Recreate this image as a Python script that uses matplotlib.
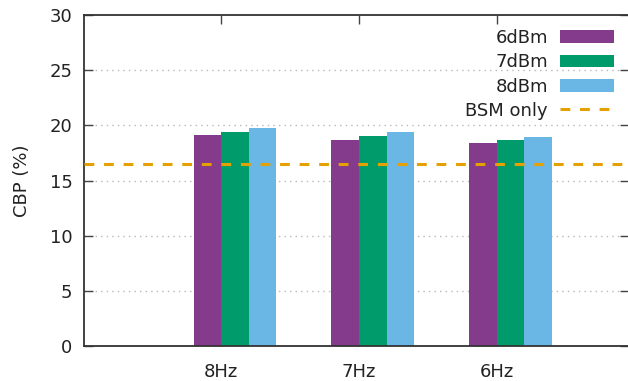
import numpy as np
import matplotlib
matplotlib.use('Agg')
import matplotlib.pyplot as plt

# data
categories = ['8Hz', '7Hz', '6Hz']
series_names = ['6dBm', '7dBm', '8dBm']
cbp_6dbm = [19.1, 18.7, 18.4]
cbp_7dbm = [19.4, 19.0, 18.7]
cbp_8dbm = [19.8, 19.4, 18.95]
bsm_only = 16.5

colors = ['#843b8c', '#009b6b', '#6ab6e5']
line_color = '#e5a100'

plt.rcParams['font.family'] = 'DejaVu Sans'
plt.rcParams['font.size'] = 13

fig = plt.figure(figsize=(6.28, 3.81), dpi=100)
ax = fig.add_axes([83.5 / 628, 35 / 381, (629 - 83.5) / 628, (346 - 15) / 381])

x = np.arange(len(categories))
width = 0.2
offsets = [-0.1, 0.1, 0.3]
handles = []
for vals, name, c, off in zip([cbp_6dbm, cbp_7dbm, cbp_8dbm], series_names, colors, offsets):
    handles.append(ax.bar(x + off, vals, width, color=c, label=name, zorder=2))

handles.append(ax.axhline(bsm_only, color=line_color, linestyle=(0, (3.2, 3.2)), linewidth=2.2,
                          label='BSM only', zorder=3))

ax.set_xlim(-1, 2.96)
ax.set_ylim(0, 30)
ax.set_xticks(x)
ax.set_xticklabels(categories)
ax.set_yticks(np.arange(0, 31, 5))

for yv in range(5, 30, 5):
    ax.axhline(yv, color='#b8b8b8', linestyle=(0, (1, 3)), linewidth=1, zorder=0)

ax.tick_params(axis='both', direction='in', length=6.5, width=1, color='#444444',
               top=True, right=True, labelcolor='#222222')
ax.tick_params(axis='x', pad=12)
ax.tick_params(axis='y', pad=8)
for s in ax.spines.values():
    s.set_color('#333333')
    s.set_linewidth(1.3)

ax.set_ylabel('CBP (%)', color='#222222')
ax.yaxis.set_label_coords(-0.097, 0.5)

leg = ax.legend(handles=handles, labels=series_names + ['BSM only'],
                loc='upper right', bbox_to_anchor=(1 - 8 / 545.5, 1 - 7 / 331),
                borderaxespad=0, frameon=False, markerfirst=False,
                handlelength=3.0, handleheight=0.72, handletextpad=0.65,
                labelspacing=0.34)
for t in leg.get_texts():
    t.set_color('#222222')

fig.savefig('out.png', dpi=100)
